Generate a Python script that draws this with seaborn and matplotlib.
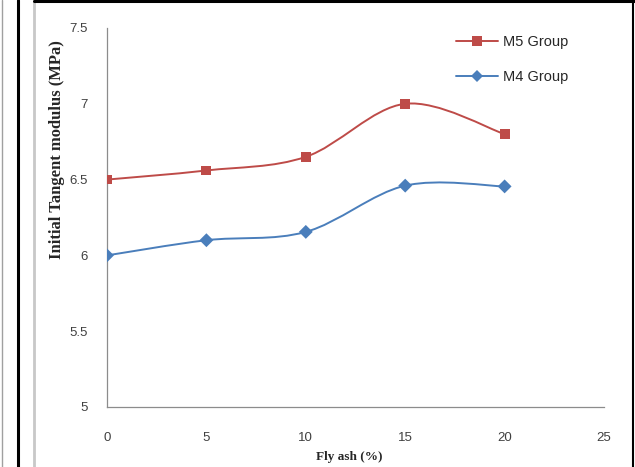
import numpy as np
import pandas as pd
import matplotlib
matplotlib.use('Agg')
import matplotlib.pyplot as plt
from matplotlib.lines import Line2D
from matplotlib.path import Path
from matplotlib.patches import PathPatch
import seaborn as sns

# values
fly_ash = [0, 5, 10, 15, 20]
m5_group = [6.50, 6.56, 6.65, 7.00, 6.80]
m4_group = [6.00, 6.10, 6.155, 6.46, 6.455]
groups = ['M5 Group', 'M4 Group']
colors = {'M5 Group': '#BE4B48', 'M4 Group': '#4A7EBB'}
markers = {'M5 Group': 's', 'M4 Group': 'D'}
y_ticks = [5, 5.5, 6, 6.5, 7, 7.5]
y_tick_labels = ['5', '5.5', '6', '6.5', '7', '7.5']
x_ticks = [0, 5, 10, 15, 20, 25]

df = pd.DataFrame({
    'Fly ash': fly_ash * 2,
    'Modulus': m5_group + m4_group,
    'Group': ['M5 Group'] * len(fly_ash) + ['M4 Group'] * len(fly_ash),
})


def smooth_path(xs, ys):
    """Excel-like smoothed line: cubic Bezier segments through the points."""
    pts = np.column_stack([xs, ys]).astype(float)
    verts = [pts[0]]
    codes = [Path.MOVETO]
    n = len(pts)
    for i in range(n - 1):
        p0 = pts[max(i - 1, 0)]
        p1 = pts[i]
        p2 = pts[i + 1]
        p3 = pts[min(i + 2, n - 1)]
        c1 = p1 + (p2 - p0) / 6.0
        c2 = p2 - (p3 - p1) / 6.0
        verts += [c1, c2, p2]
        codes += [Path.CURVE4] * 3
    return Path(verts, codes)


sns.set_style('white')
fig = plt.figure(figsize=(6.35, 4.67), dpi=100)
ax = fig.add_axes([0.1685, 0.1285, 0.7827, 0.8116])

for g in groups:
    sub = df[df['Group'] == g]
    ax.add_patch(PathPatch(smooth_path(sub['Fly ash'], sub['Modulus']),
                           facecolor='none', edgecolor=colors[g], lw=1.4, zorder=2))

sns.scatterplot(data=df, x='Fly ash', y='Modulus', hue='Group', style='Group',
                palette=colors, markers=markers, s=50, linewidth=0,
                legend=False, ax=ax, zorder=3)

ax.set_xlim(0, 25)
ax.set_ylim(5, 7.5)
ax.set_xticks(x_ticks)
ax.set_yticks(y_ticks)
ax.set_yticklabels(y_tick_labels)
for spine in ['top', 'right']:
    ax.spines[spine].set_visible(False)
for spine in ['left', 'bottom']:
    ax.spines[spine].set_color('#8C8C8C')
    ax.spines[spine].set_linewidth(0.9)
ax.tick_params(axis='both', direction='out', length=4, width=0.8, color='#8C8C8C',
               labelsize=9.5, labelcolor='#404040')
ax.tick_params(axis='y', pad=10)
ax.tick_params(axis='x', pad=14)
for lbl in ax.get_xticklabels() + ax.get_yticklabels():
    lbl.set_family('Liberation Sans')

ax.set_xlabel('')
ax.set_ylabel('')
fig.text(0.55, 0.022, 'Fly ash (%)', ha='center', va='center',
         fontsize=9.5, fontweight='bold', family='Liberation Serif')
fig.text(0.09, 0.679, 'Initial Tangent modulus (MPa)', ha='center', va='center',
         rotation=90, fontsize=12, fontweight='bold', family='Liberation Serif')

handles = [Line2D([0], [0], color=colors[g], lw=1.4, marker=markers[g],
                  markersize=7 if g == 'M5 Group' else 6, markeredgewidth=0)
           for g in groups]
leg = ax.legend(handles, groups, loc='upper left', bbox_to_anchor=(456 / 635, 1 - 35 / 467),
                bbox_transform=fig.transFigure, frameon=False, borderpad=0, borderaxespad=0,
                handlelength=2.9, labelspacing=1.45, handletextpad=0.3,
                prop={'family': 'Liberation Sans', 'size': 10.5})

# table cell borders around the chart
for xf, col, lw in [(1.5 / 635, '#A0A0A0', 1.0), (18 / 635, 'black', 2.2),
                    (33.5 / 635, '#C8C8C8', 2.0), (632.5 / 635, 'black', 1.5)]:
    fig.add_artist(Line2D([xf, xf], [0, 1], transform=fig.transFigure, color=col, lw=lw))
fig.add_artist(Line2D([33.5 / 635, 1], [1 - 1 / 467, 1 - 1 / 467],
                      transform=fig.transFigure, color='black', lw=2.2))

fig.savefig('out.png', dpi=100)
